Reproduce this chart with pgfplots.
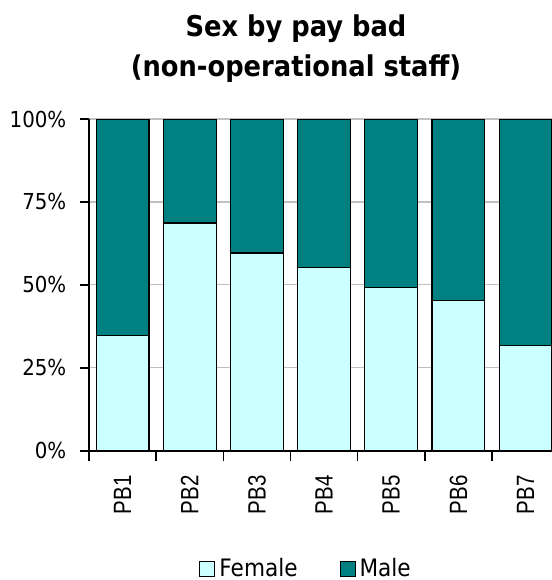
\documentclass[border=0pt]{standalone}
\usepackage{fontspec}
\setmainfont{DejaVu Sans}[FakeStretch=0.9]
\newfontfamily\catfont{Liberation Sans}[FakeStretch=0.82]
\usepackage{pgfplots}
\pgfplotsset{compat=1.18}

\definecolor{fem}{HTML}{CCFFFF}
\definecolor{male}{HTML}{008080}
\definecolor{gridgray}{HTML}{C0C0C0}

\pgfplotsset{
  legsq/.style={legend image code/.code={\draw[##1,draw=black,line width=0.5pt] (0pt,-3.75pt) rectangle (7.5pt,3.75pt);}}
}

\begin{document}
\begin{tikzpicture}
\begin{axis}[
    at={(44.5pt,64.65pt)}, anchor=south west,
    scale only axis,
    width=235.1pt, height=165.85pt,
    ybar stacked,
    bar width=0.785,
    xmin=-0.5, xmax=6.5,
    ymin=0, ymax=100,
    axis x line=bottom, axis y line=left,
    axis line style={-, black, line width=0.8pt},
    tick align=outside,
    xtick={0,...,6},
    xticklabels={PB1,PB2,PB3,PB4,PB5,PB6,PB7},
    minor xtick={-0.5,0.5,1.5,2.5,3.5,4.5,5.5,6.5},
    every major x tick/.style={draw=none},
    every minor x tick/.append style={draw=black, line width=0.8pt},
    minor tick length=5pt,
    major tick length=4.5pt,
    ytick={0,25,50,75,100},
    yticklabels={0\%,25\%,50\%,75\%,100\%},
    every major y tick/.append style={draw=black, line width=0.8pt},
    ymajorgrids,
    grid style={gridgray, line width=0.6pt},
    xticklabel style={rotate=90, anchor=east, inner sep=0pt, font=\catfont\fontsize{12.5}{14}\selectfont},
    xticklabel shift=7.65pt,
    yticklabel style={inner sep=0pt, font=\fontsize{11}{13}\selectfont},
    yticklabel shift=6.65pt,
    legend style={at={(0.4639,-0.3566)}, anchor=center, draw=none,
      font=\fontsize{12}{14}\selectfont,
      /tikz/every even column/.append style={column sep=19pt}},
    legend columns=2,
]
\addplot[fill=fem, draw=black, line width=0.6pt, legsq] coordinates
  {(0,34.67) (1,68.65) (2,59.6) (3,55.17) (4,49.26) (5,45.22) (6,31.78)};
\addplot[fill=male, draw=black, line width=0.6pt, legsq] coordinates
  {(0,65.33) (1,31.35) (2,40.4) (3,44.83) (4,50.74) (5,54.78) (6,68.22)};
\legend{Female,Male}
\end{axis}
\node[anchor=base, font=\bfseries\fontsize{14.3}{17}\selectfont] at (148pt,271.65pt) {Sex by pay bad};
\node[anchor=base, font=\bfseries\fontsize{14.3}{17}\selectfont] at (148pt,251.65pt) {(non-operational staff)};
\pgfresetboundingbox
\useasboundingbox (0,0) rectangle (276pt,290pt);
\end{tikzpicture}
\end{document}
